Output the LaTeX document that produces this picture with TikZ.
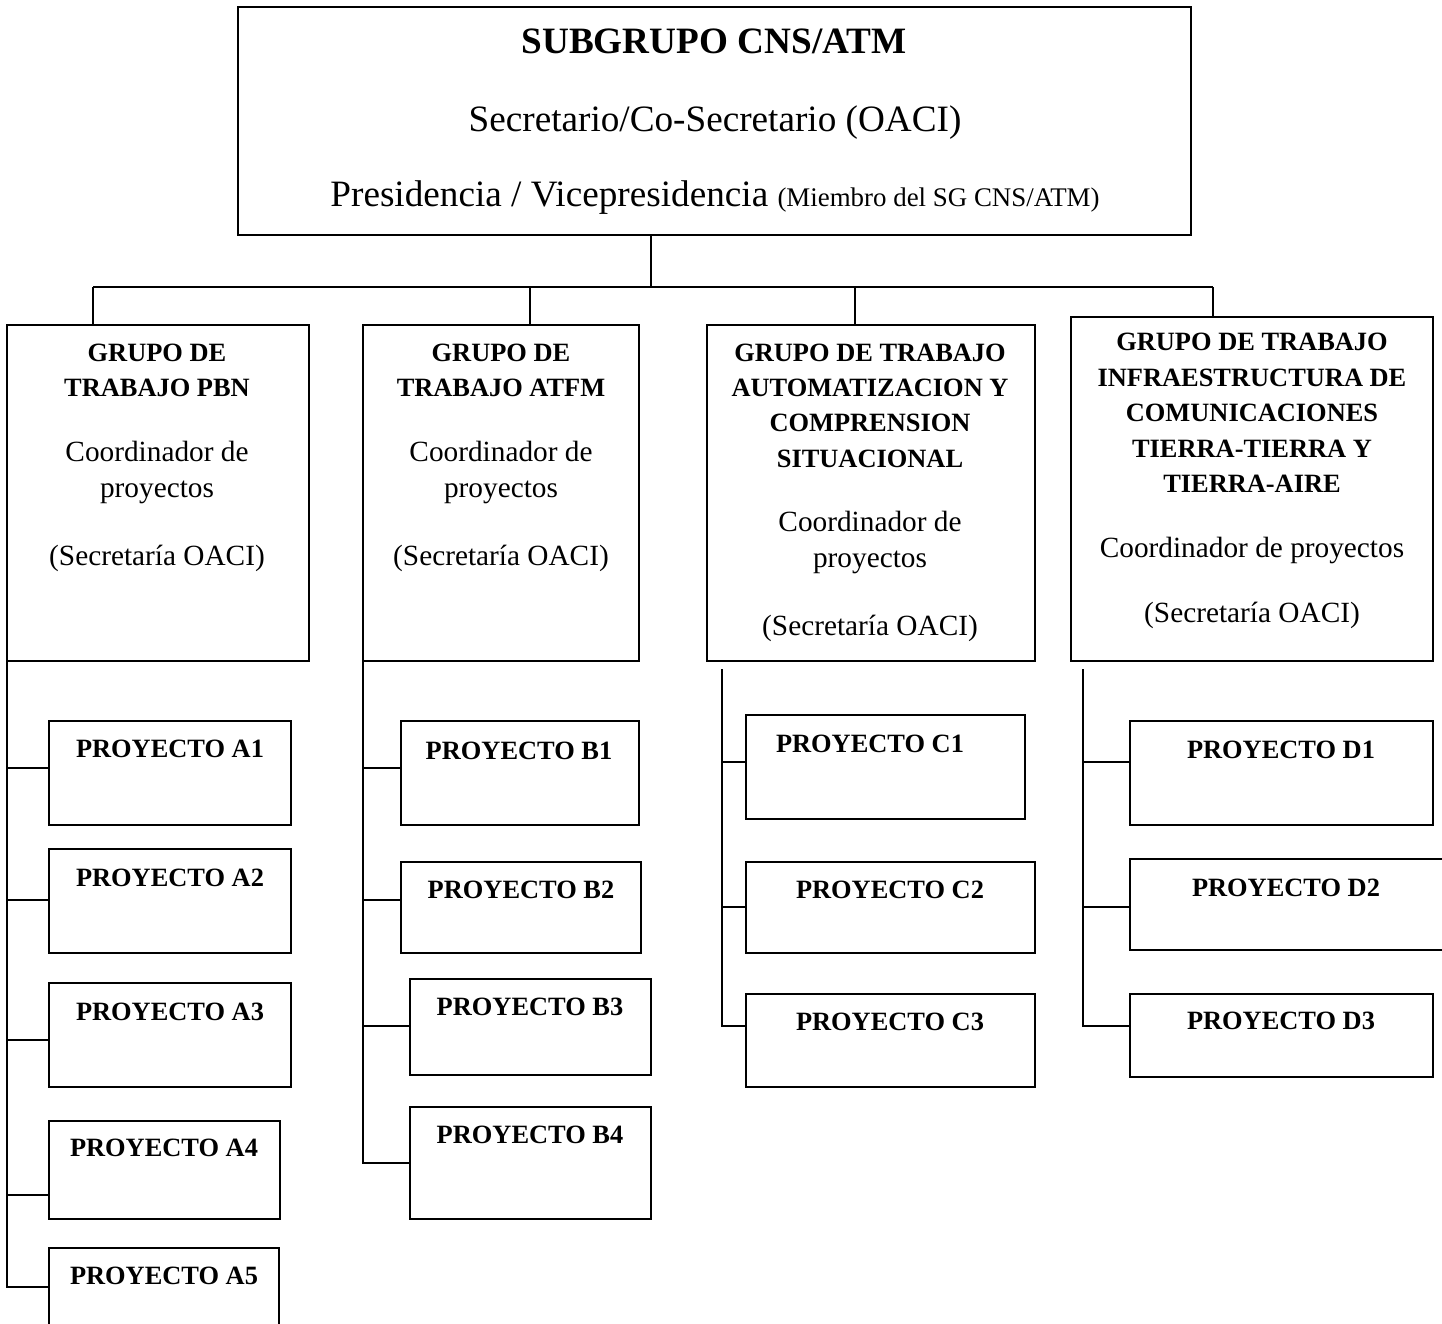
\documentclass[tikz,border=0pt]{standalone}
\usepackage{fontspec}
\setmainfont{Liberation Serif}
\newcommand\mkbox[5]{\node[bx,minimum width={(#4-#2)*0.5pt},minimum height={(#5-#3)*0.5pt}] (#1) at ({(#2+#4)/2},{(#3+#5)/2}) {};}
\begin{document}
\begin{tikzpicture}[x=0.5pt,y=-0.5pt,
  bx/.style={draw,line width=1pt,inner sep=0pt,outer sep=0pt},
  ln/.style={line width=1pt},
  bt/.style={font=\fontsize{13.2}{15}\bfseries\selectfont, anchor=base, inner sep=0pt},
  rt/.style={font=\fontsize{14.65}{17}\selectfont, anchor=base, inner sep=0pt},
  tt/.style={font=\fontsize{18.6}{22}\selectfont, anchor=base, inner sep=0pt},
]
\useasboundingbox (0,0) rectangle (1442,1324);
\fill[white] (0,0) rectangle (1442,1324);

% top box
\mkbox{top}{238}{7}{1191}{235}
\node[tt,font=\fontsize{18.6}{22}\bfseries\selectfont] (t1) at (714,53) {SUBGRUPO CNS/ATM};
\node[tt] (t2) at (715,131) {Secretario/Co-Secretario (OACI)};
\node[tt] (t3) at (715,206) {Presidencia / Vicepresidencia {\fontsize{13.45}{16}\selectfont (Miembro del SG CNS/ATM)}};

% group boxes
\mkbox{GA}{7}{325}{309}{661}
\mkbox{GB}{363}{325}{639}{661}
\mkbox{GC}{707}{325}{1035}{661}
\mkbox{GD}{1071}{317}{1433}{661}

% bus
\coordinate (bus) at (651,287);
\coordinate (busA) at (93,287);
\coordinate (busB) at (530,287);
\coordinate (busC) at (855,287);
\coordinate (busD) at (1213,287);
\draw[ln] (top.south -| bus) -- (bus);
\draw[ln] (busA) -- (busD);
\draw[ln] (busA) -- (GA.north -| busA);
\draw[ln] (busB) -- (GB.north -| busB);
\draw[ln] (busC) -- (GC.north -| busC);
\draw[ln] (busD) -- (GD.north -| busD);

% group texts
\node[bt] (ga1) at (157,361) {GRUPO DE};
\node[bt] (ga2) at (157,396) {TRABAJO PBN};
\node[rt] (ga3) at (157,461) {Coordinador de};
\node[rt] (ga4) at (157,497) {proyectos};
\node[rt] (ga5) at (157,565) {(Secretaría OACI)};

\node[bt] (gb1) at (501,361) {GRUPO DE};
\node[bt] (gb2) at (501,396) {TRABAJO ATFM};
\node[rt] (gb3) at (501,461) {Coordinador de};
\node[rt] (gb4) at (501,497) {proyectos};
\node[rt] (gb5) at (501,565) {(Secretaría OACI)};

\node[bt] (gc1) at (870,361) {GRUPO DE TRABAJO};
\node[bt] (gc2) at (870,396) {AUTOMATIZACION Y};
\node[bt] (gc3) at (870,431) {COMPRENSION};
\node[bt] (gc4) at (870,467) {SITUACIONAL};
\node[rt] (gc5) at (870,531) {Coordinador de};
\node[rt] (gc6) at (870,567) {proyectos};
\node[rt] (gc7) at (870,635) {(Secretaría OACI)};

\node[bt] (gd1) at (1252,350) {GRUPO DE TRABAJO};
\node[bt] (gd2) at (1252,386) {INFRAESTRUCTURA DE};
\node[bt] (gd3) at (1252,421) {COMUNICACIONES};
\node[bt] (gd4) at (1252,457) {TIERRA-TIERRA Y};
\node[bt] (gd5) at (1252,492) {TIERRA-AIRE};
\node[rt] (gd6) at (1252,557) {Coordinador de proyectos};
\node[rt] (gd7) at (1252,622) {(Secretaría OACI)};

% project boxes A
\mkbox{A1}{49}{721}{291}{825}
\mkbox{A2}{49}{849}{291}{953}
\mkbox{A3}{49}{983}{291}{1087}
\mkbox{A4}{49}{1121}{280}{1219}
\mkbox{A5}{49}{1248}{279}{1340}
\node[bt] (a1) at (170,757) {PROYECTO A1};
\node[bt] (a2) at (170,886) {PROYECTO A2};
\node[bt] (a3) at (170,1020) {PROYECTO A3};
\node[bt] (a4) at (164,1156) {PROYECTO A4};
\node[bt] (a5) at (164,1284) {PROYECTO A5};
\coordinate (ca1) at (49,768);
\coordinate (ca2) at (49,900);
\coordinate (ca3) at (49,1040);
\coordinate (ca4) at (49,1195);
\coordinate (ca5) at (49,1287);
\draw[ln] (GA.south west) |- (ca5);
\draw[ln] (GA.south west |- ca1) -- (ca1);
\draw[ln] (GA.south west |- ca2) -- (ca2);
\draw[ln] (GA.south west |- ca3) -- (ca3);
\draw[ln] (GA.south west |- ca4) -- (ca4);

% project boxes B
\mkbox{B1}{401}{721}{639}{825}
\mkbox{B2}{401}{862}{641}{953}
\mkbox{B3}{410}{979}{651}{1075}
\mkbox{B4}{410}{1107}{651}{1219}
\node[bt] (b1) at (519,759) {PROYECTO B1};
\node[bt] (b2) at (521,898) {PROYECTO B2};
\node[bt] (b3) at (530,1015) {PROYECTO B3};
\node[bt] (b4) at (530,1143) {PROYECTO B4};
\coordinate (cb1) at (401,768);
\coordinate (cb2) at (401,900);
\coordinate (cb3) at (410,1026);
\coordinate (cb4) at (410,1163);
\draw[ln] (GB.south west) |- (cb4);
\draw[ln] (GB.south west |- cb1) -- (cb1);
\draw[ln] (GB.south west |- cb2) -- (cb2);
\draw[ln] (GB.south west |- cb3) -- (cb3);

% project boxes C
\mkbox{C1}{746}{715}{1025}{819}
\mkbox{C2}{746}{862}{1035}{953}
\mkbox{C3}{746}{994}{1035}{1087}
\node[bt] (c1) at (870,752) {PROYECTO C1};
\node[bt] (c2) at (890,898) {PROYECTO C2};
\node[bt] (c3) at (890,1030) {PROYECTO C3};
\coordinate (cs) at (722,669);
\coordinate (cc1) at (746,762);
\coordinate (cc2) at (746,907);
\coordinate (cc3) at (746,1026);
\draw[ln] (cs) |- (cc3);
\draw[ln] (cs |- cc1) -- (cc1);
\draw[ln] (cs |- cc2) -- (cc2);

% project boxes D
\mkbox{D1}{1130}{721}{1433}{825}
\mkbox{D2}{1130}{859}{1460}{950}
\mkbox{D3}{1130}{994}{1433}{1077}
\node[bt] (d1) at (1281,758) {PROYECTO D1};
\node[bt] (d2) at (1286,896) {PROYECTO D2};
\node[bt] (d3) at (1281,1029) {PROYECTO D3};
\coordinate (ds) at (1083,669);
\coordinate (cd1) at (1130,762);
\coordinate (cd2) at (1130,907);
\coordinate (cd3) at (1130,1026);
\draw[ln] (ds) |- (cd3);
\draw[ln] (ds |- cd1) -- (cd1);
\draw[ln] (ds |- cd2) -- (cd2);
\end{tikzpicture}
\end{document}
